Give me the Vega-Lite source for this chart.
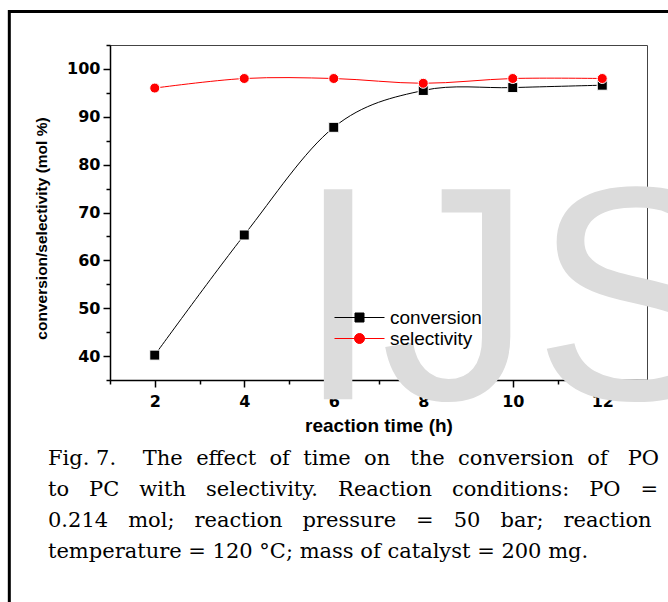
{
  "$schema": "https://vega.github.io/schema/vega-lite/v6.json",
  "width": 537,
  "height": 335,
  "autosize": "none",
  "padding": {"left": 110, "top": 45, "right": 21, "bottom": 222},
  "background": "white",
  "config": {
    "view": {"stroke": "#444", "strokeWidth": 1},
    "axis": {"zindex": 1, "grid": false, "labelOverlap": false, "domainColor": "black", "domainWidth": 1.5, "tickColor": "black", "tickWidth": 1.5, "labelColor": "black", "titleColor": "black", "labelFont": "DejaVu Sans", "labelFontWeight": "bold", "labelFontSize": 16, "titleFont": "Liberation Sans", "titleFontWeight": "bold"}
  },
  "title": {
    "text": [
      "Fig. 7.\u00a0\u00a0\u00a0\u00a0The\u00a0\u00a0effect\u00a0\u00a0of\u00a0\u00a0time\u00a0\u00a0on\u00a0\u00a0\u00a0the\u00a0\u00a0conversion\u00a0\u00a0of\u00a0\u00a0\u00a0PO",
      "to\u00a0\u00a0\u00a0PC\u00a0\u00a0\u00a0with\u00a0\u00a0\u00a0selectivity.\u00a0\u00a0\u00a0Reaction\u00a0\u00a0\u00a0conditions:\u00a0\u00a0\u00a0PO\u00a0\u00a0\u00a0=",
      "0.214\u00a0\u00a0\u00a0mol;\u00a0\u00a0\u00a0reaction\u00a0\u00a0\u00a0pressure\u00a0\u00a0\u00a0=\u00a0\u00a0\u00a050\u00a0\u00a0\u00a0bar;\u00a0\u00a0\u00a0reaction",
      "temperature = 120 °C; mass of catalyst = 200 mg."
    ],
    "orient": "bottom",
    "anchor": "start",
    "frame": "group",
    "dx": -62,
    "dy": -163,
    "offset": 0,
    "font": "DejaVu Serif",
    "fontSize": 21,
    "fontWeight": "normal",
    "color": "black",
    "lineHeight": 31
  },
  "resolve": {"axis": {"y": "independent"}},
  "datasets": {
    "main": [
      {"time": 2, "value": 40.2, "series": "conversion"},
      {"time": 4, "value": 65.3, "series": "conversion"},
      {"time": 6, "value": 87.8, "series": "conversion"},
      {"time": 8, "value": 95.5, "series": "conversion"},
      {"time": 10, "value": 96.1, "series": "conversion"},
      {"time": 12, "value": 96.6, "series": "conversion"},
      {"time": 2, "value": 96.0, "series": "selectivity"},
      {"time": 4, "value": 98.0, "series": "selectivity"},
      {"time": 6, "value": 98.0, "series": "selectivity"},
      {"time": 8, "value": 97.0, "series": "selectivity"},
      {"time": 10, "value": 98.0, "series": "selectivity"},
      {"time": 12, "value": 98.0, "series": "selectivity"}
    ]
  },
  "layer": [
    {
      "data": {"values": [{"frame": "page"}]},
      "mark": {"type": "rect", "fill": null, "fillOpacity": 0, "stroke": "black", "strokeWidth": 3, "clip": false},
      "encoding": {
        "x": {"datum": -1.25, "type": "quantitative", "scale": {"domain": [1, 13]}},
        "x2": {"datum": 16},
        "y": {"datum": 112, "type": "quantitative", "scale": {"domain": [35, 105]},
          "axis": {"orient": "left", "values": [35,45,55,65,75,85,95,105], "tickSize": 4, "labels": false, "domain": false, "title": null, "grid": false}},
        "y2": {"datum": -13}
      }
    },
    {
      "data": {"values": [{"mark": "IJS"}]},
      "mark": {"type": "text", "font": "Liberation Sans", "fontSize": 305, "color": "#dcdcdc", "align": "left", "baseline": "alphabetic", "clip": false},
      "encoding": {
        "text": {"field": "mark"},
        "x": {"datum": 5.15, "type": "quantitative"},
        "y": {"datum": 31.0, "type": "quantitative", "axis": null}
      }
    },
    {
      "data": {"name": "main"},
      "encoding": {
        "x": {"field": "time", "type": "quantitative", "scale": {"domain": [1, 13], "nice": false, "zero": false},
          "axis": {"values": [1,2,3,4,5,6,7,8,9,10,11,12,13], "labelExpr": "datum.value % 2 === 0 ? datum.label : ''", "tickSize": {"condition": {"test": "datum.value % 2 === 0", "value": 7}, "value": 4}, "labelPadding": 6, "title": "reaction time (h)", "titleFontSize": 19, "titlePadding": 7}},
        "y": {"field": "value", "type": "quantitative", "scale": {"domain": [35, 105], "nice": false, "zero": false},
          "axis": {"orient": "left", "values": [40,50,60,70,80,90,100], "tickSize": 7, "labelPadding": 3, "title": "conversion/selectivity (mol %)", "titleFontSize": 15.5, "titleX": -61, "titleY": 183}},
        "color": {"field": "series", "type": "nominal", "scale": {"domain": ["conversion", "selectivity"], "range": ["black", "red"]},
          "legend": {"orient": "none", "legendX": 240, "legendY": 263, "title": null, "padding": 0, "symbolSize": 100, "rowPadding": 1, "labelOffset": 21, "labelFont": "Liberation Sans", "labelFontSize": 19, "labelColor": "black",
            "encode": {"symbols": {"update": {
              "shape": {"signal": "datum.value === 'conversion' ? 'M-5,0H5M-0.9,-0.9H0.9V0.9H-0.9Z' : 'M-5,0H5M1,0A1,1,0,1,1,-1,0A1,1,0,1,1,1,0Z'"},
              "fill": {"signal": "datum.value === 'conversion' ? 'black' : 'red'"},
              "stroke": {"signal": "datum.value === 'conversion' ? '#333' : 'red'"},
              "strokeWidth": {"value": 1},
              "opacity": {"value": 1},
              "fillOpacity": {"value": 1}
            }}}}}
      },
      "layer": [
        {"mark": {"type": "line", "interpolate": "cardinal", "strokeWidth": 1}},
        {"transform": [{"filter": "datum.series === 'conversion'"}],
          "mark": {"type": "point", "shape": "square", "filled": true, "size": 100, "opacity": 1, "stroke": "white", "strokeWidth": 1}},
        {"transform": [{"filter": "datum.series === 'selectivity'"}],
          "mark": {"type": "point", "shape": "circle", "filled": true, "size": 100, "opacity": 1, "stroke": "white", "strokeWidth": 1}}
      ]
    }
  ]
}
